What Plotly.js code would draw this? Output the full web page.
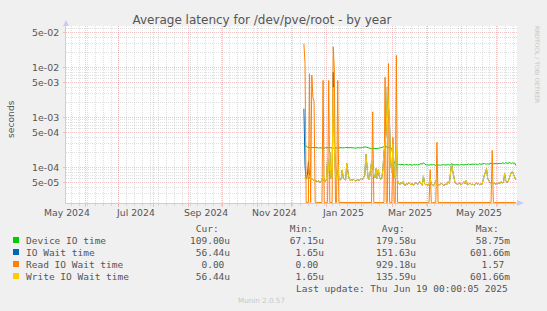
<!DOCTYPE html>
<html><head><meta charset="utf-8">
<script src="https://cdn.plot.ly/plotly-3.0.1.min.js"></script>
<style>html,body{margin:0;padding:0;background:#f0f0f0;}#chart{width:547px;height:311px;}</style>
</head><body><div id="chart"></div>
<script>
// ---- data (daily values, microseconds), first day = startDate ----
const startDate = '2024-12-12';
const deviceIO = [
 300,290,270,255,250,252,248,250,246,250,
 252,248,250,245,248,246,250,247,244,248,
 246,245,248,250,246,248,244,247,250,246,
 245,248,246,250,247,245,248,252,249,246,
 248,250,247,245,248,246,244,248,250,247,
 245,248,252,255,250,258,252,248,245,240,
 238,242,245,240,238,236,242,245,250,248,
 255,260,258,262,255,250,258,245,240,160,
 125,122,118,116,114,115,113,116,114,112,
 115,113,114,112,115,113,111,114,112,113,
 115,112,114,118,120,116,125,118,114,112,
 113,111,114,112,113,115,112,110,113,114,
 112,111,113,112,114,112,111,113,115,112,
 114,118,115,113,112,114,113,111,112,114,
 116,114,112,115,113,116,118,115,114,116,
 117,115,118,116,114,117,119,116,118,117,
 120,118,116,119,117,120,122,118,119,121,
 119,120,118,122,120,119,124,121,120,125,
 122,120,126,122,120,124,121,123,109];
const ioWait = [
 1500,110,58,60,130,62,58,60,57,56,
 55,53,52,55,50,52,56,70,54,52,
 58,150,80,200,60,65,8000,300,70,58,
 120,60,56,58,88,60,57,56,120,80,
 60,55,57,56,58,55,54,56,57,55,
 58,60,57,62,70,185,90,60,58,100,
 130,110,70,62,95,60,90,65,58,60,
 90,200,300,500,4000,1500,700,120,80,300,
 90,60,250,55,48,45,50,47,52,45,
 44,48,46,50,47,45,48,44,46,50,
 48,46,50,52,47,44,68,48,45,46,
 44,46,60,47,45,43,48,55,46,44,
 45,47,48,46,44,45,47,46,52,48,
 70,120,85,60,50,48,46,47,50,45,
 46,48,52,47,55,45,46,48,47,45,
 47,44,46,50,46,48,45,47,46,60,
 70,80,95,60,55,50,46,48,47,50,
 46,48,47,50,48,52,49,50,76,55,
 50,52,60,65,80,82,70,62,56.44];
const readIOWait = [
 30000,12000,0,0,0,7500,0,7000,2500,2100,
 0,0,0,0,0,0,0,5500,0,0,
 0,0,5500,0,0,0,26000,9000,0,0,
 5500,0,0,0,0,0,0,0,0,0,
 0,0,0,0,0,0,0,0,0,0,
 0,0,0,0,0,0,0,0,0,0,
 0,1300,0,0,0,0,0,0,0,0,
 0,0,6400,0,0,12000,0,0,0,400,
 0,0,17500,0,0,0,0,0,0,0,
 0,0,0,0,0,0,0,0,0,0,
 0,0,0,0,0,0,0,0,0,0,
 0,0,90,0,0,0,0,0,320,0,
 0,0,0,0,0,0,0,0,0,0,
 0,0,0,0,0,0,0,0,0,0,
 0,0,0,0,0,0,0,0,0,0,
 0,0,0,0,0,0,0,0,0,0,
 0,0,0,0,0,0,0,220,0,0,
 0,0,0,0,0,0,0,0,0,0,
 0,0,0,0,0,0,0,0,0];
const writeIOWait = [
 60,62,58,60,75,62,58,60,57,56,
 55,53,52,55,50,52,56,70,54,52,
 58,150,80,200,60,65,4000,300,70,58,
 120,60,56,58,88,60,57,56,120,80,
 60,55,57,56,58,55,54,56,57,55,
 58,60,57,62,70,185,90,60,58,100,
 130,110,70,62,95,60,90,65,58,60,
 90,200,300,500,4000,1500,700,120,80,300,
 90,60,250,55,48,45,50,47,52,45,
 44,48,46,50,47,45,48,44,46,50,
 48,46,50,52,47,44,68,48,45,46,
 44,46,60,47,45,43,48,55,46,44,
 45,47,48,46,44,45,47,46,52,48,
 70,120,85,60,50,48,46,47,50,45,
 46,48,52,47,55,45,46,48,47,45,
 47,44,46,50,46,48,45,47,46,60,
 70,80,95,60,55,50,46,48,47,50,
 46,48,47,50,48,52,49,50,76,55,
 50,52,60,65,80,82,70,62,56.44];

const seriesNames  = ['Device IO time','IO Wait time','Read IO Wait time','Write IO Wait time'];
const seriesColors = ['#00cc00','#0066b3','#ff8000','#ffcc00'];
const legendCur = ['109.00u',' 56.44u','  0.00',' 56.44u'];
const legendMin = [' 67.15u','  1.65u','  0.00','  1.65u'];
const legendAvg = ['179.58u','151.63u','929.18u','135.59u'];
const legendMax = [' 58.75m','601.66m','  1.57','601.66m'];
const legendHeaders = [' Cur:',' Min:',' Avg:',' Max:'];

const yTickValues = [5e-5,1e-4,5e-4,1e-3,5e-3,1e-2,5e-2];
const yTickLabels = ['5e-05','1e-04','5e-04','1e-03','5e-03','1e-02','5e-02'];
const monthStarts = ['2024-06-01','2024-07-01','2024-08-01','2024-09-01','2024-10-01','2024-11-01','2024-12-01',
  '2025-01-01','2025-02-01','2025-03-01','2025-04-01','2025-05-01','2025-06-01'];
const xLabelDates = ['2024-05-16','2024-07-16','2024-09-16','2024-11-16','2025-01-16','2025-03-16','2025-05-16'];
const xLabelTexts = ['May 2024','Jul 2024','Sep 2024','Nov 2024','Jan 2025','Mar 2025','May 2025'];

// ---- build ----
const US = 1e-6;
const ZERO_AT_BOTTOM = 2.0e-5; // rrdtool draws 0 on a log scale at the bottom edge
const dates = deviceIO.map((_, i) => new Date(Date.UTC(2024, 11, 12) + i * 86400000).toISOString().slice(0, 10));
const toS = a => a.map(v => v === 0 ? ZERO_AT_BOTTOM : v * US);
const seriesData = [deviceIO, ioWait, readIOWait, writeIOWait];

const traces = seriesData.map((arr, k) => ({
  type: 'scatter', mode: 'lines', x: dates, y: toS(arr), name: seriesNames[k],
  line: {color: seriesColors[k], width: 1}, hoverinfo: 'skip', showlegend: false
}));

const minorY = [];
for (let e = -5; e <= -2; e++) for (let d = 2; d <= 9; d++) if (d !== 5) minorY.push(d * Math.pow(10, e));

// pixel helpers for plot area (l=66, t=26, w=451, h=177)
const L = 66, T = 26, W = 451, H = 177;
const px = x => (x - L) / W;
const py = y => (T + H - y) / H;

const mono = {family: 'DejaVu Sans Mono', size: 9.5, color: '#555'};
const nb = s => s.replace(/ /g, '\u00a0');
const ann = [];
xLabelDates.forEach((d, i) => ann.push({x: d, xref: 'x', y: py(212), yref: 'paper', text: xLabelTexts[i],
  showarrow: false, xanchor: 'center', yanchor: 'middle', borderpad: 0,
  font: {family: 'DejaVu Sans', size: 9.3, color: '#555'}}));
ann.push({x: px(11), y: py(119), xref: 'paper', yref: 'paper', text: 'seconds', textangle: -90, showarrow: false,
  xanchor: 'center', yanchor: 'middle', font: {family: 'DejaVu Sans', size: 9.2, color: '#555'}});
ann.push({x: px(538), y: py(64), xref: 'paper', yref: 'paper', text: 'RRDTOOL / TOBI OETIKER', textangle: 90, showarrow: false,
  xanchor: 'center', yanchor: 'middle', font: {family: 'DejaVu Sans', size: 6, color: '#c8c8c8'}});
const colX = [188.6, 283, 375, 469.3];
legendHeaders.forEach((h, j) => ann.push({x: px(colX[j]), y: py(228), xref: 'paper', yref: 'paper', text: nb(h),
  showarrow: false, xanchor: 'left', yanchor: 'middle', borderpad: 0, font: mono}));
const shapes = [];
seriesNames.forEach((n, i) => {
  const cy = 240 + i * 12;
  ann.push({x: px(25), y: py(cy), xref: 'paper', yref: 'paper', text: nb(n), showarrow: false,
    xanchor: 'left', yanchor: 'middle', borderpad: 0, font: mono});
  [legendCur, legendMin, legendAvg, legendMax].forEach((col, j) => ann.push({x: px(colX[j]), y: py(cy), xref: 'paper', yref: 'paper',
    text: nb(col[i]), showarrow: false, xanchor: 'left', yanchor: 'middle', borderpad: 0, font: mono}));
  shapes.push({type: 'rect', xref: 'paper', yref: 'paper', x0: px(13), x1: px(19), y0: py(cy + 3), y1: py(cy - 3),
    fillcolor: seriesColors[i], line: {width: 0}});
});
ann.push({x: px(509), y: py(288), xref: 'paper', yref: 'paper', text: nb('Last update: Thu Jun 19 00:00:05 2025'),
  showarrow: false, xanchor: 'right', yanchor: 'middle', borderpad: 0, font: mono});
ann.push({x: px(261), y: py(300), xref: 'paper', yref: 'paper', text: 'Munin 2.0.57', showarrow: false,
  xanchor: 'center', yanchor: 'middle', font: {family: 'DejaVu Sans', size: 7.2, color: '#c8c8c8'}});

const axisBlue = '#c6ccf4';
shapes.push({type: 'path', xref: 'paper', yref: 'paper', fillcolor: axisBlue, line: {width: 0},
  path: `M ${px(63)},${py(26)} L ${px(66)},${py(20)} L ${px(69)},${py(26)} Z`});
shapes.push({type: 'path', xref: 'paper', yref: 'paper', fillcolor: axisBlue, line: {width: 0},
  path: `M ${px(517)},${py(200)} L ${px(524)},${py(203)} L ${px(517)},${py(206)} Z`});

const majorGrid = 'rgba(235,140,140,0.5)';
const minorGrid = 'rgba(175,175,175,0.4)';

const layout = {
  width: 547, height: 311,
  margin: {l: L, r: 547 - L - W, t: T, b: 311 - T - H},
  paper_bgcolor: '#f0f0f0', plot_bgcolor: '#ffffff',
  title: {text: 'Average latency for /dev/pve/root - by year', xref: 'container', yref: 'container',
    x: 262 / 547, y: 1 - 19.5 / 311, xanchor: 'center', yanchor: 'middle',
    font: {family: 'DejaVu Sans', size: 12, color: '#555'}},
  xaxis: {type: 'date', range: ['2024-05-15', '2025-06-19'], tickmode: 'array', tickvals: monthStarts,
    showticklabels: false, showgrid: true, gridcolor: majorGrid, griddash: '1px,1px', gridwidth: 1,
    ticks: 'outside', ticklen: 3, tickcolor: majorGrid,
    minor: {dtick: 7 * 86400000, tick0: '2024-05-20', showgrid: true, gridcolor: minorGrid, griddash: '1px,1px',
      ticks: 'outside', ticklen: 2, tickcolor: minorGrid},
    showline: true, linecolor: axisBlue, linewidth: 1, zeroline: false, fixedrange: true},
  yaxis: {type: 'log', range: [-4.71, -1.17], tickmode: 'array', tickvals: yTickValues, ticktext: yTickLabels,
    showgrid: true, gridcolor: majorGrid, griddash: '1px,1px', ticks: 'outside', ticklen: 2, tickcolor: majorGrid,
    ticklabelstandoff: 2,
    tickfont: {family: 'DejaVu Sans', size: 9.4, color: '#555'},
    minor: {tickmode: 'array', tickvals: minorY, showgrid: true, gridcolor: minorGrid, griddash: '1px,1px'},
    showline: true, linecolor: axisBlue, linewidth: 1, zeroline: false, fixedrange: true},
  annotations: ann, shapes: shapes, showlegend: false
};
Plotly.newPlot('chart', traces, layout, {staticPlot: true});
</script></body></html>
